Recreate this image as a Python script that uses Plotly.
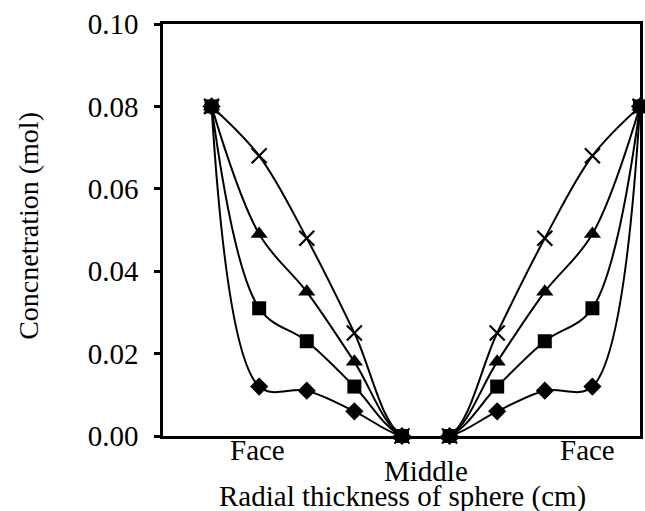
import plotly.graph_objects as go

positions = [0, 1, 2, 3, 4, 5, 6, 7, 8, 9]
cross_vals = [0.080, 0.068, 0.048, 0.025, 0.0, 0.0, 0.025, 0.048, 0.068, 0.080]
triangle_vals = [0.080, 0.049, 0.035, 0.018, 0.0, 0.0, 0.018, 0.035, 0.049, 0.080]
square_vals = [0.080, 0.031, 0.023, 0.012, 0.0, 0.0, 0.012, 0.023, 0.031, 0.080]
diamond_vals = [0.080, 0.012, 0.011, 0.006, 0.0, 0.0, 0.006, 0.011, 0.012, 0.080]
y_ticks = [0.00, 0.02, 0.04, 0.06, 0.08, 0.10]
x_labels = ["Face", "Middle", "Face"]
x_label_pos = [0.96, 4.5, 7.9]

FONT = "Liberation Serif"
FS = 29
plot_left, plot_right, plot_top, plot_bot = 163, 643, 24, 436


def py(pix):
    return (plot_bot - pix) / (plot_bot - plot_top)


def px(pix):
    return (pix - plot_left) / (plot_right - plot_left)


fig = go.Figure()
series = [
    (diamond_vals, "diamond", 14, None),
    (triangle_vals, "triangle-up", 15, None),
    (cross_vals, "x-thin", 15, 2.2),
    (square_vals, "square", 14, None),
]
for vals, sym, size, lw in series:
    marker = dict(symbol=sym, size=size, color="black")
    if lw:
        marker["line"] = dict(width=lw, color="black")
    fig.add_trace(go.Scatter(
        x=positions, y=vals, mode="lines+markers",
        line=dict(shape="spline", smoothing=1.0, color="black", width=2),
        marker=marker, cliponaxis=False, showlegend=False,
    ))

fig.update_layout(
    width=645, height=511,
    margin=dict(l=plot_left, r=645 - plot_right, t=plot_top, b=511 - plot_bot),
    paper_bgcolor="white", plot_bgcolor="white",
    font=dict(family=FONT, size=FS, color="black"),
    xaxis=dict(range=[-1.02, 9.0], showticklabels=False, ticks="",
               showgrid=False, zeroline=False, showline=True, mirror=True,
               linecolor="black", linewidth=2.5),
    yaxis=dict(range=[0, 0.10], tickvals=y_ticks, tickformat=".2f",
               ticks="outside", ticklen=6, tickwidth=2.5, tickcolor="black",
               ticklabelstandoff=10,
               showgrid=False, zeroline=False, showline=True, mirror=True,
               linecolor="black", linewidth=2.5,
               tickfont=dict(family=FONT, size=FS, color="black")),
)

label_rows = [450, 471, 450]
for text, xv, row in zip(x_labels, x_label_pos, label_rows):
    fig.add_annotation(x=xv, xref="x", y=py(row), yref="paper",
                       xanchor="center", yanchor="middle",
                       text=text, showarrow=False,
                       font=dict(family=FONT, size=FS, color="black"))

fig.add_annotation(x=px(404), xref="paper", y=py(496), yref="paper",
                   xanchor="center", yanchor="middle",
                   text="Radial thickness of sphere (cm)", showarrow=False,
                   font=dict(family=FONT, size=FS, color="black"))
fig.add_annotation(x=px(27), xref="paper", y=py(226), yref="paper",
                   xanchor="center", yanchor="middle",
                   text="Concnetration (mol)", showarrow=False, textangle=-90,
                   font=dict(family=FONT, size=FS - 1, color="black"))

fig.write_html("out.html")
